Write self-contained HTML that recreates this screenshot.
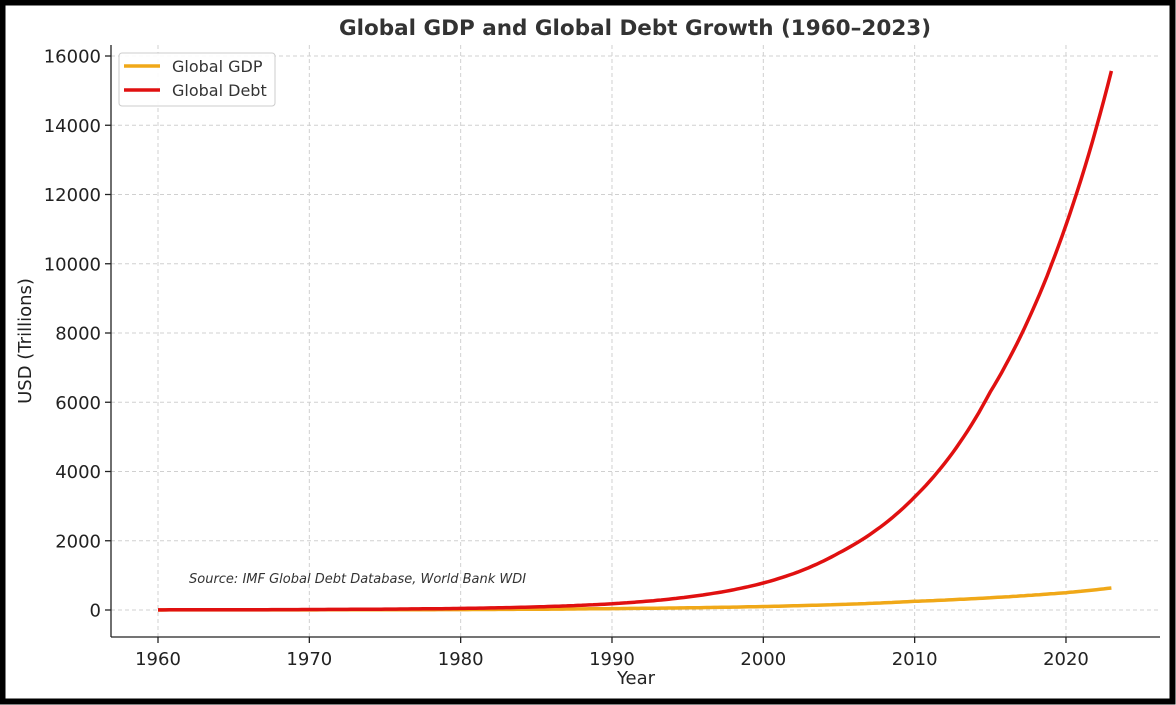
<!DOCTYPE html>
<html><head><meta charset="utf-8"><style>
html,body{margin:0;padding:0;background:#fff}
svg{display:block;font-family:"DejaVu Sans","Liberation Sans",sans-serif}
</style></head><body>
<svg id="s" width="1176" height="705" viewBox="0 0 1176 705">
<rect x="2.5" y="2.5" width="1170" height="699" fill="#fff" stroke="#000" stroke-width="6"/>
<text x="635" y="35" text-anchor="middle" font-size="21.5" font-weight="bold" fill="#333">Global GDP and Global Debt Growth (1960–2023)</text>
<g id="grid" stroke="#d0d0d0" stroke-width="1" stroke-dasharray="4,3"></g>
<g id="ticks" fill="#222" font-size="18"></g>
<line x1="111" y1="45" x2="111" y2="637" stroke="#222" stroke-width="1.3"/>
<line x1="111" y1="637" x2="1160" y2="637" stroke="#222" stroke-width="1.3"/>
<path id="gdp" fill="none" stroke="#f0a818" stroke-width="3.5"/>
<path id="debt" fill="none" stroke="#e01010" stroke-width="3.5"/>
<text x="189" y="583" font-size="13" font-style="italic" fill="#333">Source: IMF Global Debt Database, World Bank WDI</text>
<text x="636" y="684" text-anchor="middle" font-size="18" fill="#222">Year</text>
<text transform="translate(31,341) rotate(-90)" text-anchor="middle" font-size="18" fill="#222">USD (Trillions)</text>
<rect x="119" y="53" width="156" height="53" rx="3" fill="#fff" fill-opacity="0.9" stroke="#ccc"/>
<line x1="124" y1="66" x2="160" y2="66" stroke="#f0a818" stroke-width="3.5"/>
<line x1="124" y1="90" x2="160" y2="90" stroke="#e01010" stroke-width="3.5"/>
<text x="172" y="72" font-size="16" fill="#333">Global GDP</text>
<text x="172" y="96" font-size="16" fill="#333">Global Debt</text>
</svg>
<script>
const X=y=>158+(y-1960)*15.133, Y=v=>610-v*69.25/2000;
const g=document.getElementById('grid'),t=document.getElementById('ticks');
let h='',tt='';
for(let y=1960;y<=2020;y+=10){const x=X(y);h+=`<line x1="${x}" y1="45" x2="${x}" y2="637"/>`;tt+=`<line x1="${x}" y1="637" x2="${x}" y2="643" stroke="#222" stroke-width="1.3"/><text x="${x}" y="665" text-anchor="middle">${y}</text>`;}
for(let v=0;v<=16000;v+=2000){const y=Y(v);h+=`<line x1="111" y1="${y}" x2="1160" y2="${y}"/>`;tt+=`<line x1="105" y1="${y}" x2="111" y2="${y}" stroke="#222" stroke-width="1.3"/><text x="101" y="${y+6.5}" text-anchor="end">${v}</text>`;}
g.innerHTML=h;t.innerHTML=tt;
function interp(pts,yr){for(let i=0;i<pts.length-1;i++){const[a,va]=pts[i],[b,vb]=pts[i+1];if(yr>=a&&yr<=b){const f=(yr-a)/(b-a);return Math.exp(Math.log(va)+f*(Math.log(vb)-Math.log(va)));}}return pts[pts.length-1][1];}
const D=[[1960,4],[1970,14],[1980,45],[1990,180],[2000,780],[2005,1650],[2010,3264],[2015,6300],[2020,11120],[2023,15570]];
const G=[[1960,1.4],[1970,4],[1980,12],[1990,40],[2000,100],[2010,250],[2020,500],[2023,635]];
function path(p){let s='';for(let yr=1960;yr<=2023.001;yr+=0.25){s+=(s?'L':'M')+X(yr).toFixed(1)+','+Y(interp(p,yr)).toFixed(1);}return s;}
document.getElementById('debt').setAttribute('d',path(D));
document.getElementById('gdp').setAttribute('d',path(G));
</script>
</body></html>
